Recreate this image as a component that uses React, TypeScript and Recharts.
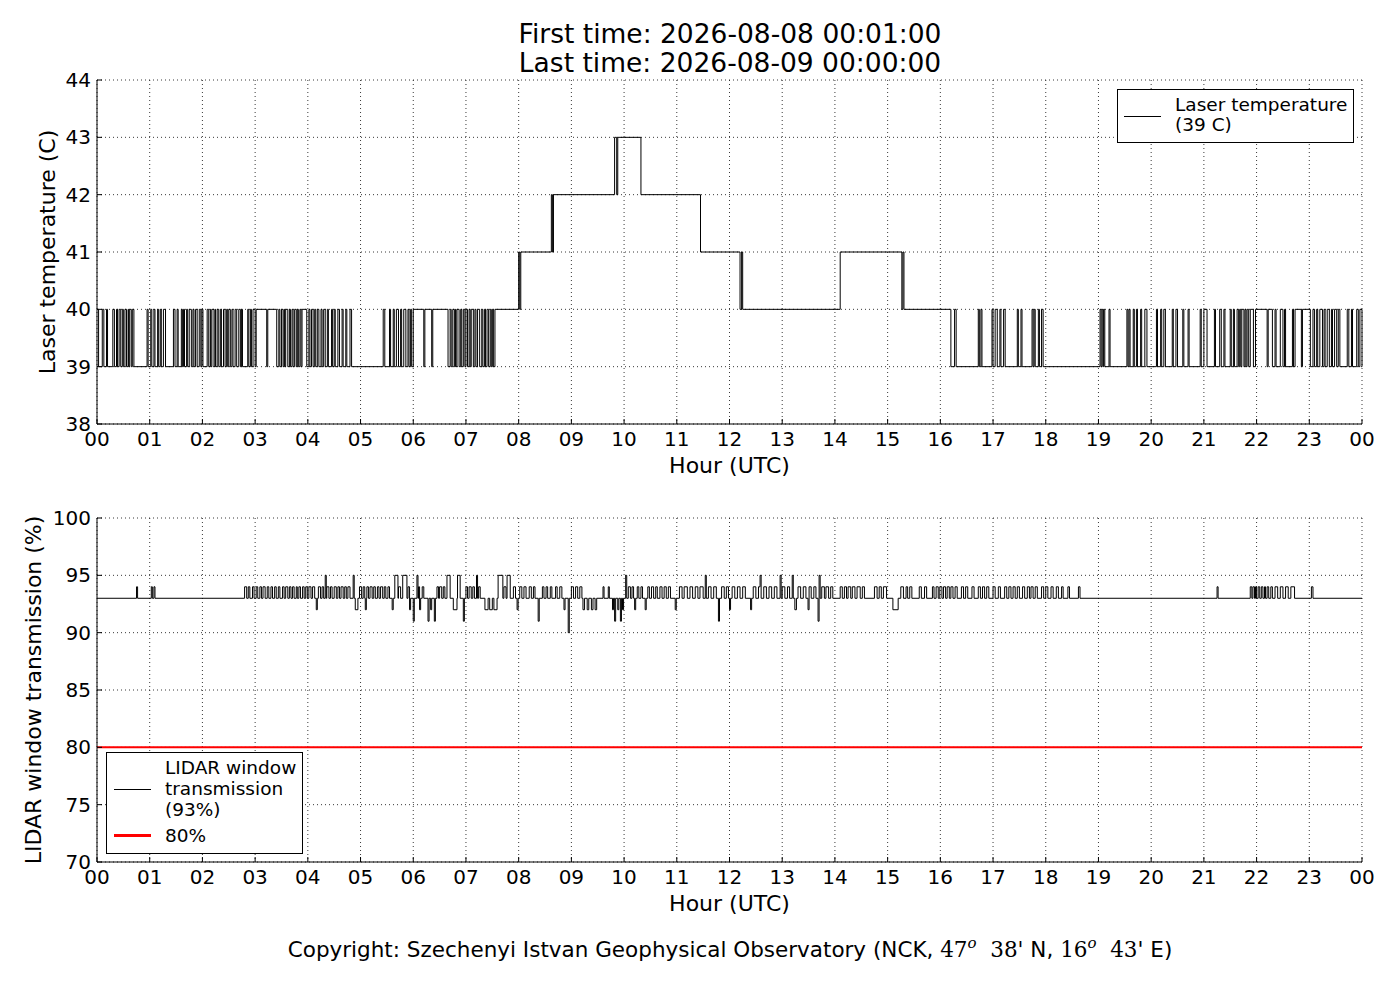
import React from 'react'
import {
  LineChart, Line, XAxis, YAxis, CartesianGrid, ReferenceLine, Legend,
} from 'recharts'

const FONT = '"DejaVu Sans", sans-serif'
const SERIF = '"DejaVu Serif", serif'

const HOUR_TICKS = [0, 1, 2, 3, 4, 5, 6, 7, 8, 9, 10, 11, 12, 13, 14, 15, 16, 17, 18, 19, 20, 21, 22, 23, 24]
const HOUR_LABELS = ['00', '01', '02', '03', '04', '05', '06', '07', '08', '09', '10', '11', '12',
  '13', '14', '15', '16', '17', '18', '19', '20', '21', '22', '23', '00']

const TEMP_TICKS = [38, 39, 40, 41, 42, 43, 44]
const TRANS_TICKS = [70, 75, 80, 85, 90, 95, 100]

// laser temperature: [hour, value] where the level changes
const TEMP_STEPS: [number, number][] = [
  [0, 39], [7.55, 40], [8.0, 41], [8.02, 40], [8.04, 41], [8.62, 42], [8.64, 41], [8.66, 42],
  [9.82, 43], [9.86, 42], [9.88, 43], [10.32, 42], [11.45, 41], [12.2, 40], [12.23, 41], [12.25, 40],
  [14.1, 41], [15.27, 40], [15.29, 41], [15.31, 40], [16.2, 39],
]

// short jumps 39 -> 40 while the base level is 39
const TEMP_PULSES: [number, number][] = [
  [0.0, 0.03], [0.1, 0.13], [0.18, 0.2], [0.3, 0.33], [0.37, 0.39], [0.42, 0.45], [0.48, 0.5], [0.53, 0.56],
  [0.59, 0.6], [0.62, 0.65], [0.67, 0.7],
  [0.95, 0.97], [1.02, 1.04], [1.08, 1.1], [1.15, 1.17], [1.2, 1.22], [1.26, 1.3],
  [1.45, 1.48], [1.52, 1.54], [1.6, 1.62], [1.64, 1.66], [1.7, 1.72], [1.75, 1.79], [1.82, 1.84], [1.87, 1.9],
  [1.94, 1.97], [1.99, 2.01],
  [2.09, 2.12], [2.15, 2.16], [2.18, 2.22], [2.24, 2.25], [2.28, 2.31], [2.34, 2.36], [2.4, 2.43], [2.46, 2.48],
  [2.5, 2.53], [2.56, 2.58], [2.62, 2.65], [2.69, 2.72], [2.74, 2.76],
  [2.86, 2.88], [2.91, 2.93], [2.96, 3.0], [3.02, 3.22], [3.24, 3.41],
  [3.45, 3.47], [3.5, 3.53], [3.55, 3.56], [3.58, 3.62], [3.65, 3.67], [3.7, 3.72], [3.75, 3.78], [3.8, 3.82],
  [3.85, 3.87], [3.89, 3.98],
  [4.02, 4.04], [4.07, 4.1], [4.13, 4.15], [4.18, 4.21], [4.25, 4.27], [4.3, 4.33], [4.37, 4.39], [4.45, 4.47],
  [4.5, 4.52], [4.57, 4.6], [4.65, 4.67], [4.72, 4.74], [4.8, 4.83],
  [5.43, 5.46], [5.55, 5.57], [5.62, 5.64], [5.68, 5.72], [5.76, 5.78], [5.82, 5.86], [5.9, 5.92], [5.95, 5.97],
  [6.0, 6.2], [6.22, 6.35], [6.37, 6.66],
  [6.7, 6.72], [6.75, 6.78], [6.8, 6.81], [6.83, 6.87], [6.9, 6.92], [6.95, 6.98], [7.0, 7.03], [7.06, 7.08],
  [7.1, 7.14], [7.17, 7.19], [7.22, 7.26], [7.3, 7.32], [7.35, 7.37], [7.4, 7.43], [7.46, 7.48], [7.5, 7.52],
  [16.27, 16.3], [16.72, 16.74], [16.77, 16.79], [16.98, 17.0], [17.04, 17.08], [17.13, 17.15], [17.2, 17.23],
  [17.46, 17.48], [17.53, 17.55], [17.74, 17.76], [17.78, 17.8], [17.86, 17.88], [17.92, 17.95],
  [19.03, 19.05], [19.07, 19.09], [19.1, 19.12], [19.2, 19.22], [19.54, 19.56], [19.58, 19.6], [19.66, 19.68],
  [19.72, 19.74], [19.8, 19.82], [19.88, 19.92], [20.1, 20.12], [20.18, 20.2], [20.24, 20.27], [20.4, 20.42],
  [20.47, 20.5], [20.6, 20.62], [20.7, 20.72], [20.93, 20.95], [21.0, 21.06], [21.2, 21.22], [21.3, 21.33],
  [21.38, 21.4], [21.5, 21.52], [21.56, 21.58], [21.63, 21.66], [21.68, 21.7], [21.72, 21.76], [21.78, 21.8],
  [21.82, 21.85], [21.88, 21.94], [21.98, 22.2], [22.22, 22.3], [22.35, 22.37], [22.45, 22.5], [22.53, 22.55],
  [22.68, 22.7], [22.73, 22.85], [22.87, 23.02], [23.07, 23.1], [23.14, 23.16], [23.2, 23.25], [23.28, 23.3],
  [23.34, 23.38], [23.42, 23.44], [23.48, 23.52], [23.55, 23.58], [23.72, 23.75], [23.8, 23.82], [23.9, 23.93],
  [23.96, 24],
]

// window transmission sits at 93 %, with short 94 % blips
const TRANS_BASE = 93
const TRANS_UP: [number, number][] = [
  [0.75, 0.77], [1.03, 1.05], [1.08, 1.1],
  [2.8, 2.84], [2.87, 2.9], [2.95, 2.98], [3.02, 3.05], [3.09, 3.12], [3.15, 3.19], [3.23, 3.26], [3.3, 3.33],
  [3.37, 3.4], [3.44, 3.47], [3.52, 3.55], [3.58, 3.62], [3.65, 3.68], [3.71, 3.74], [3.78, 3.8], [3.83, 3.86],
  [3.9, 3.93], [3.96, 3.99], [4.02, 4.06], [4.09, 4.13],
  [4.2, 4.24], [4.27, 4.3], [4.36, 4.4], [4.43, 4.46], [4.5, 4.54], [4.57, 4.6], [4.63, 4.67], [4.7, 4.73],
  [4.76, 4.8], [4.98, 5.02], [5.05, 5.08], [5.12, 5.15], [5.18, 5.22], [5.25, 5.28], [5.32, 5.35], [5.38, 5.42],
  [5.45, 5.48], [5.52, 5.55],
  [5.72, 5.76], [5.9, 5.94], [6.1, 6.14], [6.17, 6.2], [6.45, 6.48], [6.5, 6.54], [6.57, 6.6], [7.0, 7.03],
  [7.06, 7.1], [7.13, 7.16], [7.24, 7.27],
  [7.72, 7.76], [7.9, 7.94], [8.02, 8.06], [8.1, 8.14], [8.2, 8.24], [8.28, 8.31],
  [8.45, 8.48], [8.52, 8.55], [8.6, 8.63], [8.7, 8.73], [8.78, 8.82],
  [9.0, 9.04], [9.08, 9.12], [9.16, 9.2], [9.6, 9.62], [9.7, 9.72],
  [10.08, 10.12], [10.15, 10.18], [10.25, 10.28], [10.32, 10.35], [10.45, 10.48], [10.52, 10.56], [10.6, 10.63],
  [10.68, 10.72], [10.76, 10.8], [10.84, 10.88],
  [11.05, 11.1], [11.14, 11.2], [11.25, 11.3], [11.35, 11.4], [11.44, 11.5], [11.6, 11.65], [11.7, 11.75],
  [11.85, 11.9], [11.94, 11.98], [12.05, 12.1], [12.15, 12.2], [12.25, 12.3], [12.45, 12.5], [12.55, 12.6],
  [12.65, 12.7], [12.75, 12.8], [12.85, 12.9], [13.0, 13.05], [13.1, 13.14], [13.3, 13.35], [13.4, 13.45],
  [13.5, 13.55], [13.6, 13.64],
  [13.75, 13.8], [13.83, 13.88], [13.92, 13.96], [14.1, 14.14], [14.18, 14.22], [14.25, 14.3], [14.33, 14.38],
  [14.42, 14.48], [14.52, 14.56], [14.75, 14.8], [14.84, 14.88], [14.92, 14.98], [15.25, 15.3], [15.35, 15.38],
  [15.42, 15.46], [15.6, 15.64], [15.7, 15.74], [15.85, 15.88], [15.92, 15.96], [15.99, 16.03], [16.06, 16.1],
  [16.13, 16.17], [16.2, 16.24], [16.28, 16.32], [16.4, 16.44], [16.48, 16.52], [16.6, 16.64], [16.72, 16.76],
  [16.8, 16.84], [16.88, 16.92], [17.0, 17.04], [17.1, 17.14], [17.22, 17.26], [17.3, 17.34], [17.38, 17.42],
  [17.46, 17.5], [17.56, 17.6], [17.65, 17.69], [17.72, 17.76], [17.8, 17.84], [17.92, 17.96], [18.0, 18.04],
  [18.1, 18.14], [18.2, 18.24], [18.3, 18.33], [18.42, 18.45], [18.62, 18.65],
  [21.25, 21.27],
  [21.88, 21.91], [21.93, 21.96], [21.98, 22.0], [22.03, 22.06], [22.09, 22.12], [22.15, 22.17], [22.2, 22.23],
  [22.27, 22.3], [22.35, 22.4], [22.45, 22.5], [22.55, 22.6], [22.65, 22.72],
  [23.04, 23.07],
]

// bigger excursions: [from, to, value]
const TRANS_JUMPS: [number, number, number][] = [
  [4.16, 4.18, 92], [4.33, 4.35, 95], [4.86, 4.88, 95], [4.9, 4.95, 92], [5.09, 5.11, 92], [5.6, 5.62, 92],
  [5.65, 5.71, 95], [5.8, 5.88, 95], [5.93, 5.95, 92], [6.0, 6.02, 91], [6.07, 6.09, 95], [6.12, 6.14, 92],
  [6.28, 6.3, 91], [6.33, 6.35, 92], [6.4, 6.42, 91], [6.64, 6.7, 95], [6.76, 6.83, 92], [6.84, 6.89, 95],
  [6.95, 6.97, 91], [7.2, 7.22, 95], [7.36, 7.42, 92], [7.45, 7.5, 92], [7.53, 7.59, 92], [7.61, 7.7, 95],
  [7.78, 7.84, 95], [7.97, 7.99, 92], [8.37, 8.39, 91], [8.86, 8.88, 92], [8.94, 8.96, 90],
  [9.22, 9.25, 92], [9.3, 9.33, 92], [9.38, 9.41, 92], [9.45, 9.48, 92],
  [9.78, 9.8, 92], [9.82, 9.84, 91], [9.88, 9.9, 92], [9.93, 9.95, 91], [9.97, 9.99, 92], [10.03, 10.05, 95],
  [10.2, 10.22, 92], [10.4, 10.42, 92], [10.97, 10.99, 92], [11.54, 11.56, 95], [11.79, 11.81, 91],
  [12.0, 12.02, 92], [12.4, 12.42, 92], [12.58, 12.6, 95], [12.96, 12.98, 95], [13.19, 13.21, 95],
  [13.24, 13.27, 92], [13.49, 13.51, 92], [13.68, 13.7, 91], [13.7, 13.72, 95], [15.1, 15.2, 92],
]

const TRANS_LIMIT = 80

function toSteps(breaks: number[], valueAt: (t: number) => number) {
  const ts = Array.from(new Set([0, 24, ...breaks])).filter((t) => t >= 0 && t <= 24).sort((a, b) => a - b)
  const out: { t: number; v: number }[] = []
  let prev = NaN
  ts.forEach((t) => {
    const v = valueAt(t)
    if (v !== prev || t === 24) {
      out.push({ t, v })
      prev = v
    }
  })
  return out
}

const tempData = toSteps(
  [...TEMP_STEPS.map((s) => s[0]), ...TEMP_PULSES.flat()],
  (t) => {
    let base = TEMP_STEPS[0][1]
    TEMP_STEPS.forEach(([s, v]) => { if (s <= t) base = v })
    if (base === 39 && TEMP_PULSES.some(([a, b]) => t >= a && t < b)) return 40
    return base
  },
)

const transData = toSteps(
  [...TRANS_UP.flat(), ...TRANS_JUMPS.flatMap((j) => [j[0], j[1]])],
  (t) => {
    const j = TRANS_JUMPS.find(([a, b]) => t >= a && t < b)
    if (j) return j[2]
    if (TRANS_UP.some(([a, b]) => t >= a && t < b)) return TRANS_BASE + 1
    return TRANS_BASE
  },
)

const tickStyle = { fill: '#000', fontSize: 20, fontFamily: FONT }

const XTitle = (props: any) => {
  const vb = props.viewBox || { x: 97, y: 424, width: 1265 }
  return (
    <text x={vb.x + vb.width / 2} y={vb.y + 41} textAnchor="middle" dominantBaseline="central"
      fontSize={22} fontFamily={FONT} fill="#000">{props.text}</text>
  )
}

const YTitle = (props: any) => {
  const vb = props.viewBox || { x: 0, y: 80, height: 344 }
  const x = vb.x + props.dx
  const y = vb.y + vb.height / 2
  return (
    <text x={x} y={y} transform={`rotate(-90, ${x}, ${y})`} textAnchor="middle" dominantBaseline="central"
      fontSize={22} fontFamily={FONT} fill="#000">{props.text}</text>
  )
}

function TempLegend() {
  return (
    <div style={{ width: 237, height: 54, boxSizing: 'border-box', border: '1px solid #000', background: '#fff',
      position: 'relative', fontSize: 18.5, lineHeight: '20px', fontFamily: FONT, color: '#000' }}>
      <div style={{ position: 'absolute', left: 6, top: 26, width: 37, borderTop: '1px solid #000' }} />
      <div style={{ position: 'absolute', left: 57, top: 5, whiteSpace: 'nowrap' }}>Laser temperature<br />(39 C)</div>
    </div>
  )
}

function TransLegend() {
  return (
    <div style={{ width: 197, height: 102, boxSizing: 'border-box', border: '1px solid #000', background: '#fff',
      position: 'relative', fontSize: 18.5, lineHeight: '21px', fontFamily: FONT, color: '#000' }}>
      <div style={{ position: 'absolute', left: 7, top: 36, width: 37, borderTop: '1px solid #000' }} />
      <div style={{ position: 'absolute', left: 58, top: 4, whiteSpace: 'nowrap' }}>
        LIDAR window<br />transmission<br />(93%)
      </div>
      <div style={{ position: 'absolute', left: 7, top: 81, width: 37, borderTop: '3px solid #ff0000' }} />
      <div style={{ position: 'absolute', left: 58, top: 72, whiteSpace: 'nowrap' }}>80%</div>
    </div>
  )
}

const margin = { top: 80, right: 38, bottom: 16, left: 0 }
const supStyle = { fontStyle: 'italic', fontSize: 15, position: 'relative' as const, top: -9, verticalAlign: 'baseline' }

export default function App() {
  return (
    <div style={{ position: 'absolute', left: 0, top: 0, width: 1400, height: 1000, background: '#fff', fontFamily: FONT }}>
      <div style={{ position: 'absolute', left: 230, top: 19, width: 1000, textAlign: 'center', fontSize: 26.5,
        lineHeight: '29px', color: '#000' }}>
        First time: 2026-08-08 00:01:00<br />Last time: 2026-08-09 00:00:00
      </div>

      <div style={{ position: 'absolute', left: 0, top: 0 }}>
        <LineChart width={1400} height={500} data={tempData} margin={margin}>
          <CartesianGrid stroke="#222" strokeDasharray="1 3" strokeWidth={0.9} />
          <XAxis dataKey="t" type="number" domain={[0, 24]} ticks={HOUR_TICKS} interval={0}
            tickFormatter={(v) => HOUR_LABELS[v]} tick={tickStyle} height={60}
            axisLine={{ stroke: '#000' }} tickLine={{ stroke: '#000' }} tickSize={-5} tickMargin={13}
            label={<XTitle text="Hour (UTC)" />} />
          <XAxis xAxisId="top" orientation="top" type="number" domain={[0, 24]} ticks={HOUR_TICKS} interval={0}
            height={0} tick={false} axisLine={{ stroke: '#000' }} tickLine={{ stroke: '#000' }} tickSize={-5} />
          <YAxis type="number" domain={[38, 44]} ticks={TEMP_TICKS} interval={0} width={97} tick={tickStyle}
            axisLine={{ stroke: '#000' }} tickLine={{ stroke: '#000' }} tickSize={-5} tickMargin={11}
            label={<YTitle text="Laser temperature (C)" dx={47} />} />
          <YAxis yAxisId="right" orientation="right" type="number" domain={[38, 44]} ticks={TEMP_TICKS}
            interval={0} width={0} tick={false} axisLine={{ stroke: '#000' }} tickLine={{ stroke: '#000' }} tickSize={-5} />
          <Legend verticalAlign="middle" align="center" layout="horizontal" content={() => <TempLegend />}
            wrapperStyle={{ left: 1117, top: 89, width: 237, height: 54 }} />
          <Line type="stepAfter" dataKey="v" name="Laser temperature (39 C)" stroke="#000" strokeWidth={1}
            dot={false} isAnimationActive={false} />
        </LineChart>
      </div>

      <div style={{ position: 'absolute', left: 0, top: 438 }}>
        <LineChart width={1400} height={500} data={transData} margin={margin}>
          <CartesianGrid stroke="#222" strokeDasharray="1 3" strokeWidth={0.9} />
          <XAxis dataKey="t" type="number" domain={[0, 24]} ticks={HOUR_TICKS} interval={0}
            tickFormatter={(v) => HOUR_LABELS[v]} tick={tickStyle} height={60}
            axisLine={{ stroke: '#000' }} tickLine={{ stroke: '#000' }} tickSize={-5} tickMargin={13}
            label={<XTitle text="Hour (UTC)" />} />
          <XAxis xAxisId="top" orientation="top" type="number" domain={[0, 24]} ticks={HOUR_TICKS} interval={0}
            height={0} tick={false} axisLine={{ stroke: '#000' }} tickLine={{ stroke: '#000' }} tickSize={-5} />
          <YAxis type="number" domain={[70, 100]} ticks={TRANS_TICKS} interval={0} width={97} tick={tickStyle}
            axisLine={{ stroke: '#000' }} tickLine={{ stroke: '#000' }} tickSize={-5} tickMargin={11}
            label={<YTitle text="LIDAR window transmission (%)" dx={33} />} />
          <YAxis yAxisId="right" orientation="right" type="number" domain={[70, 100]} ticks={TRANS_TICKS}
            interval={0} width={0} tick={false} axisLine={{ stroke: '#000' }} tickLine={{ stroke: '#000' }} tickSize={-5} />
          <ReferenceLine y={TRANS_LIMIT} stroke="#ff0000" strokeWidth={2} />
          <Legend verticalAlign="middle" align="center" layout="horizontal" content={() => <TransLegend />}
            wrapperStyle={{ left: 106, top: 314, width: 197, height: 102 }} />
          <Line type="stepAfter" dataKey="v" name="LIDAR window transmission (93%)" stroke="#000" strokeWidth={1}
            dot={false} isAnimationActive={false} />
        </LineChart>
      </div>

      <div style={{ position: 'absolute', left: 230, top: 937, width: 1000, textAlign: 'center', fontSize: 21.5,
        lineHeight: '26px', color: '#000', whiteSpace: 'nowrap' }}>
        Copyright: Szechenyi Istvan Geophysical Observatory (NCK,{' '}
        <span style={{ fontFamily: SERIF }}>47<span style={supStyle}>o</span>&nbsp; 38'</span> N,{' '}
        <span style={{ fontFamily: SERIF }}>16<span style={supStyle}>o</span>&nbsp; 43</span>' E)
      </div>
    </div>
  )
}
